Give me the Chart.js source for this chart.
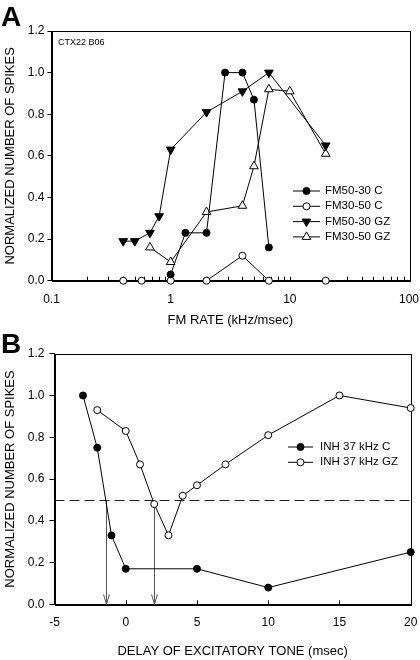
<!DOCTYPE html>
<html>
<head>
<meta charset="utf-8">
<script src="https://cdn.jsdelivr.net/npm/chart.js@4.4.0/dist/chart.umd.min.js"></script>
<style>
  html, body { margin: 0; padding: 0; background: #fff; }
  #wrap { position: relative; width: 420px; height: 660px; overflow: hidden; }
  .panel { position: absolute; left: 0; width: 420px; height: 330px; }
  #panelA { top: 0; }
  #panelB { top: 330px; }
  .tag { position: absolute; left: 1px; font: bold 28px "Liberation Sans", Arial, sans-serif; color: #000; }
</style>
</head>
<body>
<div id="wrap">
  <div class="panel" id="panelA"><canvas id="chartA" width="420" height="330"></canvas></div>
  <div class="panel" id="panelB"><canvas id="chartB" width="420" height="330"></canvas></div>
  <div class="tag" style="top:1px">A</div>
  <div class="tag" style="top:328px">B</div>
</div>
<script>
// ==============================
//  DATA - panel A (FM rate, kHz/msec)
// ==============================
const rateFM5030C  = [1, 1.33, 2, 2.86, 4, 5, 6.67];
const spikeFM5030C = [0.03, 0.23, 0.23, 1.0, 1.0, 0.87, 0.16];
const rateFM3050C  = [0.4, 0.57, 1, 2, 4, 6.67, 20];
const spikeFM3050C = [0, 0, 0, 0, 0.12, 0, 0];
const rateFM5030GZ  = [0.4, 0.5, 0.67, 0.8, 1, 2, 4, 6.67, 20];
const spikeFM5030GZ = [0.19, 0.19, 0.23, 0.31, 0.63, 0.81, 0.91, 1.0, 0.65];
const rateFM3050GZ  = [0.67, 1, 2, 4, 5, 6.67, 10, 20];
const spikeFM3050GZ = [0.16, 0.09, 0.33, 0.36, 0.55, 0.92, 0.91, 0.61];
const rateTicks  = [0.1, 1, 10, 100];
const spikeTicks = [0, 0.2, 0.4, 0.6, 0.8, 1.0, 1.2];

// ==============================
//  DATA - panel B (delay, msec)
// ==============================
const delayC   = [-3, -2, -1, 0, 5, 10, 20];
const spikeInhC = [1.0, 0.75, 0.33, 0.17, 0.17, 0.08, 0.25];
const delayGZ   = [-2, 0, 1, 2, 3, 4, 5, 7, 10, 15, 20];
const spikeInhGZ = [0.93, 0.83, 0.67, 0.48, 0.33, 0.52, 0.57, 0.67, 0.81, 1.0, 0.94];
const delayTicks = [-5, 0, 5, 10, 15, 20];
const halfLevel = 0.5;
const halfCross = [-1.4, 2.0];

const FONT = '"Liberation Sans", Arial, sans-serif';
const f12 = { family: FONT, size: 12 };
const f13 = { family: FONT, size: 13 };

function pts(xs, ys) {
  return xs.map((x, i) => ({ x: x, y: ys[i] }));
}

function series(label, data, style, fill, rot, r) {
  return {
    label: label, data: data, showLine: true, clip: false,
    borderColor: "#000", borderWidth: 1,
    pointStyle: style, pointRotation: rot || 0, pointRadius: r,
    pointBackgroundColor: fill, pointBorderColor: "#000", pointBorderWidth: 1,
    pointHoverRadius: r
  };
}

// box around plot + x ticks pointing inward
const frameTicks = {
  id: "frameTicks",
  beforeDatasetsDraw(chart, args, o) {
    const { ctx, chartArea: a, scales: { x } } = chart;
    ctx.save();
    ctx.strokeStyle = "#000";
    ctx.lineWidth = 1;
    ctx.strokeRect(Math.round(a.left) + 0.5, Math.round(a.top) + 0.5,
                   Math.round(a.right - a.left), Math.round(a.bottom - a.top));
    ctx.beginPath();
    (o.inner || []).forEach(v => {
      const px = Math.round(x.getPixelForValue(v)) + 0.5;
      ctx.moveTo(px, a.bottom);
      ctx.lineTo(px, a.bottom - o.len);
    });
    ctx.stroke();
    ctx.restore();
  }
};

// legend: short line with the marker in the middle
const lineLegend = {
  id: "lineLegend",
  afterDraw(chart, args, o) {
    const ctx = chart.ctx;
    ctx.save();
    ctx.font = o.size + "px " + FONT;
    ctx.textBaseline = "middle";
    chart.data.datasets.filter(d => d.label).forEach((ds, i) => {
      const y = o.y + i * o.row;
      ctx.strokeStyle = "#000";
      ctx.lineWidth = 1;
      ctx.beginPath();
      ctx.moveTo(o.x, y);
      ctx.lineTo(o.x + o.w, y);
      ctx.stroke();
      ctx.fillStyle = ds.pointBackgroundColor;
      Chart.helpers.drawPoint(ctx, {
        pointStyle: ds.pointStyle, rotation: ds.pointRotation,
        radius: ds.pointRadius, borderWidth: 1
      }, o.x + o.w / 2, y);
      ctx.fillStyle = "#000";
      ctx.fillText(ds.label, o.x + o.w + o.gap, y);
    });
    ctx.restore();
  }
};

const note = {
  id: "note",
  afterDraw(chart, args, o) {
    if (!o.text) return;
    const { ctx, chartArea: a } = chart;
    ctx.save();
    ctx.font = o.size + "px " + FONT;
    ctx.fillStyle = "#000";
    ctx.textBaseline = "middle";
    ctx.fillText(o.text, a.left + o.dx, a.top + o.dy);
    ctx.restore();
  }
};

// 50% line and arrows down to the x axis
const halfMarks = {
  id: "halfMarks",
  beforeDatasetsDraw(chart, args, o) {
    if (!o.on) return;
    const { ctx, chartArea: a, scales: { x, y } } = chart;
    const yh = Math.round(y.getPixelForValue(halfLevel)) + 0.5;
    const y0 = y.getPixelForValue(0);
    ctx.save();
    ctx.lineWidth = 1;
    ctx.strokeStyle = "#222";
    ctx.setLineDash([10, 5]);
    ctx.beginPath();
    ctx.moveTo(a.left, yh);
    ctx.lineTo(a.right, yh);
    ctx.stroke();
    ctx.setLineDash([]);
    ctx.strokeStyle = "#555";
    halfCross.forEach(v => {
      const px = Math.round(x.getPixelForValue(v)) + 0.5;
      ctx.beginPath();
      ctx.moveTo(px, yh);
      ctx.lineTo(px, y0);
      ctx.moveTo(px - 3, y0 - 10);
      ctx.lineTo(px, y0);
      ctx.lineTo(px + 3, y0 - 10);
      ctx.stroke();
    });
    ctx.restore();
  }
};

function yAxis(width, tl, pad) {
  return {
    min: 0, max: 1.2,
    afterBuildTicks: s => { s.ticks = spikeTicks.map(v => ({ value: v })); },
    afterFit: s => { s.width = width; },
    grid: { drawOnChartArea: false, drawTicks: true, tickLength: tl, color: "#000" },
    border: { display: true, color: "#000", width: 1 },
    ticks: { callback: v => v.toFixed(1), font: f12, color: "#000", padding: pad },
    title: { display: true, text: "NORMALIZED NUMBER OF SPIKES", font: f13, color: "#000", padding: { top: 2.2, bottom: 0 } }
  };
}

// fixed height, and no extra side padding from the end labels
function xFit(h) {
  return s => { s.height = h; s.paddingLeft = 0; s.paddingRight = 0; };
}

const minorRate = [];
[0.1, 1, 10].forEach(d => { for (let k = 1; k <= 9; k++) minorRate.push(d * k); });

// ==============================
//  PANEL A
// ==============================
new Chart(document.getElementById("chartA"), {
  type: "scatter",
  data: {
    datasets: [
      series("FM50-30 C", pts(rateFM5030C, spikeFM5030C), "circle", "#000", 0, 3.5),
      series("FM30-50 C", pts(rateFM3050C, spikeFM3050C), "circle", "#fff", 0, 3.5),
      series("FM50-30 GZ", pts(rateFM5030GZ, spikeFM5030GZ), "triangle", "#000", 180, 5),
      series("FM30-50 GZ", pts(rateFM3050GZ, spikeFM3050GZ), "triangle", "#fff", 0, 5)
    ]
  },
  options: {
    responsive: false,
    animation: false,
    layout: { padding: { top: 31, right: 11, left: 0, bottom: 0 } },
    plugins: {
      legend: { display: false },
      tooltip: { enabled: false },
      frameTicks: { inner: minorRate, len: 4 },
      lineLegend: { x: 293, y: 191, row: 15.3, w: 27, gap: 5, size: 11.5 },
      note: { text: "CTX22 B06", dx: 6.5, dy: 12, size: 9 }
    },
    scales: {
      x: {
        type: "logarithmic", min: 0.1, max: 100,
        afterBuildTicks: s => { s.ticks = rateTicks.map(v => ({ value: v })); },
        afterFit: xFit(49.3),
        grid: { display: false, drawTicks: false },
        border: { display: true, color: "#000", width: 1 },
        ticks: { callback: v => String(v), font: f12, color: "#000", padding: 12, maxRotation: 0, autoSkip: false },
        title: { display: true, text: "FM RATE (kHz/msec)", font: f13, color: "#000", padding: { top: 0, bottom: 1.7 } }
      },
      y: yAxis(51.5, 4, 3)
    }
  },
  plugins: [frameTicks, lineLegend, note]
});

// ==============================
//  PANEL B
// ==============================
new Chart(document.getElementById("chartB"), {
  type: "scatter",
  data: {
    datasets: [
      series("INH 37 kHz C", pts(delayC, spikeInhC), "circle", "#000", 0, 3.5),
      series("INH 37 kHz GZ", pts(delayGZ, spikeInhGZ), "circle", "#fff", 0, 3.5)
    ]
  },
  options: {
    responsive: false,
    animation: false,
    layout: { padding: { top: 23.7, right: 9.3, left: 0, bottom: 0 } },
    plugins: {
      legend: { display: false },
      tooltip: { enabled: false },
      frameTicks: { inner: delayTicks, len: 4 },
      halfMarks: { on: true },
      lineLegend: { x: 288, y: 117, row: 15.3, w: 25, gap: 7, size: 11.5 }
    },
    scales: {
      x: {
        type: "linear", min: -5, max: 20,
        afterBuildTicks: s => { s.ticks = delayTicks.map(v => ({ value: v })); },
        afterFit: xFit(55.7),
        grid: { display: false, drawTicks: false },
        border: { display: true, color: "#000", width: 1 },
        ticks: { font: f12, color: "#000", padding: 11, maxRotation: 0, autoSkip: false },
        title: { display: true, text: "DELAY OF EXCITATORY TONE (msec)", font: f13, color: "#000", padding: { top: 0, bottom: 0.7 } }
      },
      y: yAxis(54.5, 5, 5)
    }
  },
  plugins: [frameTicks, halfMarks, lineLegend]
});
</script>
</body>
</html>
